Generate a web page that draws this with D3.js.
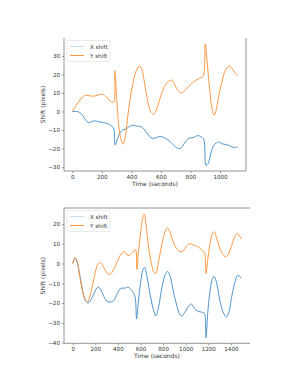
<!DOCTYPE html>
<html><head><meta charset="utf-8">
<script src="https://cdn.jsdelivr.net/npm/d3@7"></script>
<style>body{margin:0;background:#fff}svg{display:block}text{font-family:"DejaVu Sans",sans-serif;fill:#333}</style>
</head><body>
<svg id="c" width="306" height="388"></svg>
<script>
// Chart 1 data
const t1 = [0,20,40,60,80,100,130,160,190,210,240,260,280,288,300,315,330,345,360,375,390,410,430,455,470,490,510,530,550,570,590,610,640,670,690,710,740,770,800,830,860,885,900,915,930,945,960,975,990,1010,1030,1060,1080,1100,1120];
const y1 = [0,2.5,5,7,8.5,8.8,8.3,8.5,9.3,9.2,7,5.5,5,22,8,-8,-15,-17.5,-13,-3,6,15,21.5,24.5,23,15,6,0,-1.5,1,6,11,15.5,17,15,12,10,12,14.5,16.5,18,19,36.5,25,12,2,-2,1,8,15,21,24.5,23.5,21,19.5];
const tx1 = [0,30,50,70,90,110,130,150,180,210,240,260,280,290,305,320,340,360,380,400,420,440,460,480,500,530,550,570,600,630,660,690,720,740,760,790,820,850,870,890,905,920,940,960,990,1020,1050,1080,1100,1120];
const x1 = [0,0,-0.5,-2,-4.5,-6,-5.5,-5,-5.5,-6,-6.5,-7.5,-9,-18,-15,-12,-10,-9.5,-8.5,-7.5,-7.5,-8,-8,-9,-11,-14,-14.5,-14,-13.5,-14.5,-16,-18.5,-20,-19.5,-17,-14.5,-14,-13,-13.5,-15,-29,-28,-22,-18,-16.5,-17.5,-18,-19,-19.5,-19];
// Chart 2 data
const t2y = [0,20,35,55,80,105,130,150,175,200,220,240,260,290,320,340,370,400,430,455,480,500,520,555,568,580,600,620,633,650,670,700,720,735,760,790,820,840,860,890,920,950,980,1010,1035,1060,1090,1120,1150,1168,1180,1195,1215,1240,1255,1270,1300,1330,1350,1370,1400,1430,1450,1470,1490];
const y2 = [0,3,2,-4,-12,-17.5,-19.5,-17,-11,-4.5,-0.5,0.5,-0.5,-3.5,-5.5,-5,-2,1.5,5,6,4.5,4,5,7,-3,5,15,23,25,19,9,-1,-4.5,-5,1,10,16.5,18,16,11,7.5,6,6.5,9,10,9.5,9,8,6.5,5,-5,2,10,15.5,16,13.5,8,4.5,3.5,4,8,13,15,14.5,12.5];
const t2x = [0,20,35,60,85,110,135,160,190,220,240,270,300,330,360,380,410,430,460,490,520,550,565,580,600,620,635,655,680,710,735,760,790,820,840,860,890,920,945,965,990,1020,1050,1075,1100,1130,1160,1170,1180,1195,1215,1235,1250,1270,1300,1330,1360,1380,1410,1440,1460,1480,1490];
const x2 = [0,2.5,1.5,-5,-13,-18.5,-20,-18.5,-15,-12,-12.5,-16,-19,-19.5,-19,-17,-13.5,-12.5,-12.5,-12,-13.5,-16.5,-28,-20,-10,-3.5,-2,-6,-14,-22.5,-26.5,-22,-12,-5.5,-4,-6,-14,-21,-25.5,-26.5,-25,-22,-20.5,-22.5,-24,-24.5,-25,-26,-37.5,-25,-14,-8,-6.5,-9,-18,-24.5,-27,-25,-16,-8.5,-6,-6.5,-7.5];
const xTicks1 = [0,200,400,600,800,1000];
const yTicks1 = [-30,-20,-10,0,10,20,30];
const xTicks2 = [0,200,400,600,800,1000,1200,1400];
const yTicks2 = [-40,-30,-20,-10,0,10,20];
const seriesNames = ["X shift","Y shift"];
const colX = "#3d8ac6", colY = "#ff8c2e", colLegX = "#c4dcef";

const svg = d3.select("#c");
function chart(o){
  const g = svg.append("g");
  const xs = d3.scaleLinear().domain(o.xd).range([o.l,o.r]);
  const ys = d3.scaleLinear().domain(o.yd).range([o.b,o.t]);
  const line = d3.line().x(d=>xs(d[0])).y(d=>ys(d[1])).curve(d3.curveCatmullRom.alpha(0.5));
  g.append("path").attr("d",line(o.tx.map((t,i)=>[t,o.xv[i]]))).attr("fill","none").attr("stroke",colX).attr("stroke-width",0.9);
  g.append("path").attr("d",line(o.ty.map((t,i)=>[t,o.yv[i]]))).attr("fill","none").attr("stroke",colY).attr("stroke-width",0.9);
  const ax = g.append("g").attr("transform",`translate(0,${o.b})`).call(d3.axisBottom(xs).tickValues(o.xt).tickSize(2).tickPadding(2).tickFormat(d3.format("d")));
  const ay = g.append("g").attr("transform",`translate(${o.l},0)`).call(d3.axisLeft(ys).tickValues(o.yt).tickSize(2).tickPadding(2).tickFormat(d=>d<0?"\u2212"+Math.abs(d):d));
  [ax,ay].forEach(a=>{a.select(".domain").remove();a.selectAll("line").attr("stroke","#555").attr("stroke-width",0.6);a.selectAll("text").attr("font-size",5.6).attr("fill","#333").attr("font-family","DejaVu Sans");});
  const sp = {stroke:"#888","stroke-width":0.9};
  o.spines.forEach(s=>{
    let c = s==="l"?[o.l,o.t,o.l,o.b]:s==="r"?[o.r,o.t,o.r,o.b]:s==="b"?[o.l,o.b,o.r,o.b]:[o.l,o.t,o.r,o.t];
    g.append("line").attr("x1",c[0]).attr("y1",c[1]).attr("x2",c[2]).attr("y2",c[3]).attr("stroke",sp.stroke).attr("stroke-width",sp["stroke-width"]);
  });
  g.append("text").attr("x",(o.l+o.r)/2).attr("y",o.b+15).attr("text-anchor","middle").attr("font-size",6).text("Time (seconds)");
  g.append("text").attr("transform",`translate(${o.l-19},${(o.t+o.b)/2}) rotate(-90)`).attr("text-anchor","middle").attr("font-size",6).text("Shift (pixels)");
  const lg = g.append("g").attr("transform",`translate(${o.l+3},${o.t+2.5})`);
  lg.append("rect").attr("width",43).attr("height",21).attr("rx",1.5).attr("fill","#fff").attr("stroke","#ddd").attr("stroke-width",0.6);
  [colLegX,colY].forEach((c,i)=>{
    lg.append("line").attr("x1",3).attr("x2",17).attr("y1",6+i*9).attr("y2",6+i*9).attr("stroke",c).attr("stroke-width",0.9);
    lg.append("text").attr("x",23).attr("y",8+i*9).attr("font-size",5.6).text(seriesNames[i]);
  });
}
chart({l:64,r:246,t:38,b:171,xd:[-56,1176],yd:[-32.1,39.7],tx:tx1,xv:x1,ty:t1,yv:y1,xt:xTicks1,yt:yTicks1,spines:["l","r","b"]});
chart({l:64,r:250,t:208,b:343.3,xd:[-77,1569],yd:[-40.4,28.1],tx:t2x,xv:x2,ty:t2y,yv:y2,xt:xTicks2,yt:yTicks2,spines:["l","t","b"]});
</script>
</body></html>
